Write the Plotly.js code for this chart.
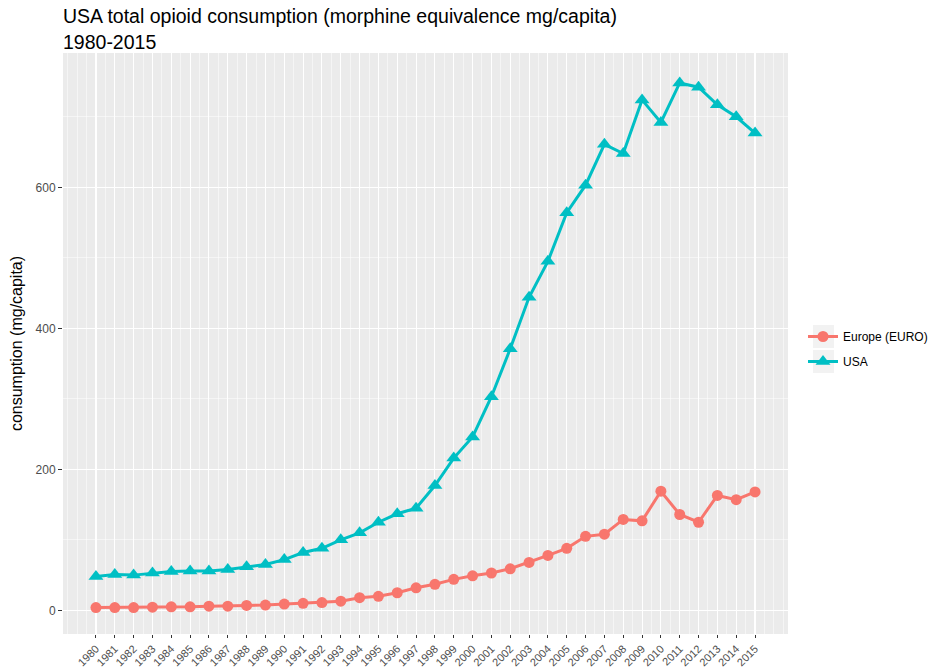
<!DOCTYPE html>
<html>
<head>
<meta charset="utf-8">
<script src="https://cdn.plot.ly/plotly-3.0.1.min.js"></script>
<style>html,body{margin:0;padding:0;background:#fff;}#chart{width:935px;height:668px;}</style>
</head>
<body>
<div id="chart"></div>
<script>
var years = [1980,1981,1982,1983,1984,1985,1986,1987,1988,1989,1990,1991,1992,1993,1994,1995,1996,1997,1998,1999,2000,2001,2002,2003,2004,2005,2006,2007,2008,2009,2010,2011,2012,2013,2014,2015];
var europe = [4,4,4,4.5,5,5,6,6,7,7.5,9,10,11,13,18,20,25,32,37,44,49,53,59,68,78,88,105,108,129,127,169,136,125,163,157,168];
var usa = [48,51,50,53,55,56,56,58,62,65,72,82,88,100,110,125,137,145,177,216,246,303,371,444,495,564,603,661,648,724,692,748,742,717,700,677];
var seriesNames = ["Europe (EURO)", "USA"];
var yTicks = [0,200,400,600];

var font = "Liberation Sans, Arial, sans-serif";
var traces = [
  {x: years, y: europe, name: seriesNames[0], type: "scatter", mode: "lines+markers", legendgroup: "a",
   line: {color: "#F8766D", width: 3}, marker: {symbol: "circle", size: 11, color: "#F8766D"}},
  {x: years, y: usa, name: seriesNames[1], type: "scatter", mode: "lines+markers", legendgroup: "b",
   line: {color: "#00BFC4", width: 3}, marker: {symbol: "triangle-up", size: 13, color: "#00BFC4"}}
];

var layout = {
  width: 935, height: 668,
  margin: {l: 63, r: 147, t: 53, b: 34},
  paper_bgcolor: "#ffffff",
  plot_bgcolor: "#EBEBEB",
  font: {family: font, color: "#000"},
  title: {text: "USA total opioid consumption (morphine equivalence mg/capita)<br>1980-2015",
          x: 63/935, xanchor: "left", xref: "container", y: 0.965, yanchor: "top", yref: "container",
          font: {size: 19.5, color: "#000", family: font}},
  xaxis: {range: [1978.25, 2016.75], tickvals: years, ticktext: years.map(String),
          tickangle: -45, tickfont: {size: 11, color: "#4D4D4D"},
          showgrid: true, gridcolor: "#ffffff", gridwidth: 1.1, zeroline: false,
          ticks: "outside", ticklen: 3, tickcolor: "#333333", tickwidth: 1, showline: false,
          minor: {dtick: 0.5, tick0: 1980.5, showgrid: true, gridcolor: "#ffffff", gridwidth: 0.5, ticks: ""},
          fixedrange: true},
  yaxis: {range: [-33.5, 790.5], tickvals: yTicks, ticktext: yTicks.map(String),
          tickfont: {size: 12, color: "#4D4D4D"},
          showgrid: true, gridcolor: "#ffffff", gridwidth: 1.1, zeroline: false,
          ticks: "outside", ticklen: 4, tickcolor: "#333333", tickwidth: 1,
          minor: {dtick: 100, showgrid: true, gridcolor: "#ffffff", gridwidth: 0.5, ticks: ""},
          title: {text: "consumption (mg/capita)", font: {size: 16, color: "#000"}, standoff: 8},
          fixedrange: true},
  legend: {xref: "container", yref: "container", x: 803/935, xanchor: "left", y: (668-322)/668, yanchor: "top",
           bgcolor: "rgba(0,0,0,0)", font: {size: 12, color: "#000"}, itemwidth: 30, tracegroupgap: 6},
  shapes: [
    {type: "rect", xref: "paper", yref: "paper", x0: (813-63)/725, x1: (834-63)/725, y0: (634-348)/581, y1: (634-325)/581,
     fillcolor: "#F2F2F2", line: {width: 0}, layer: "below"},
    {type: "rect", xref: "paper", yref: "paper", x0: (813-63)/725, x1: (834-63)/725, y0: (634-373)/581, y1: (634-350)/581,
     fillcolor: "#F2F2F2", line: {width: 0}, layer: "below"}
  ],
  showlegend: true
};

Plotly.newPlot("chart", traces, layout, {displayModeBar: false, staticPlot: true});
</script>
</body>
</html>
